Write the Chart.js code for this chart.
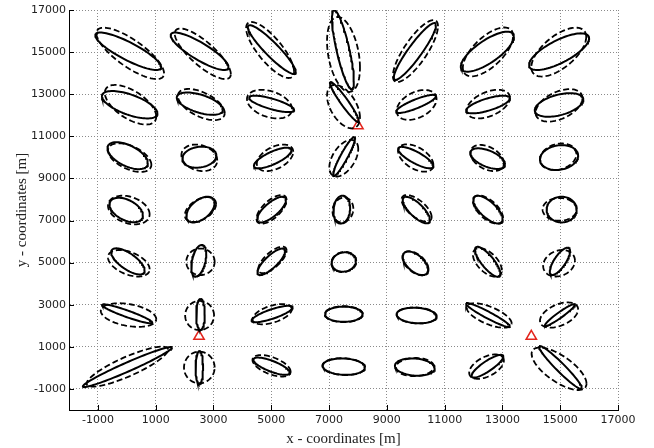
<!DOCTYPE html>
<html>
<head>
<meta charset="utf-8">
<script src="https://cdn.jsdelivr.net/npm/chart.js@4.4.0/dist/chart.umd.min.js"></script>
<style>
  body { margin: 0; background: #fff; }
</style>
</head>
<body>
<canvas id="ellipse-chart" width="654" height="448"></canvas>
<script>

// axis ticks (metres)
const xTicks = [-1000, 1000, 3000, 5000, 7000, 9000, 11000, 13000, 15000, 17000];
const yTicks = [-1000, 1000, 3000, 5000, 7000, 9000, 11000, 13000, 15000, 17000];

// error ellipses: [x, y, sigmaX, sigmaY, rho]
const solidEllipses = [
  [50, 15040, 1140, 890, -0.85], [2520, 15040, 1000, 890, -0.85], [5020, 15120, 830, 1160, -0.92],
  [7480, 15120, 380, 1880, -0.8], [9970, 15030, 730, 1350, 0.92], [12480, 15020, 920, 950, 0.75],
  [14960, 15020, 1040, 870, 0.73],
  [100, 12500, 960, 650, -0.63], [2530, 12550, 800, 530, -0.55], [5010, 12540, 780, 390, -0.75],
  [7530, 12630, 500, 950, -0.95], [10010, 12540, 690, 430, 0.85], [12500, 12510, 760, 420, 0.7],
  [14960, 12490, 840, 560, 0.45],
  [30, 10080, 700, 640, -0.55], [2510, 10010, 590, 500, 0.15], [5050, 9970, 650, 490, 0.75],
  [7520, 10040, 380, 930, 0.93], [10000, 9990, 610, 510, -0.8], [12490, 9940, 600, 490, -0.55],
  [14960, 9990, 660, 590, 0.15],
  [-20, 7500, 580, 580, -0.45], [2550, 7520, 490, 610, 0.5], [5010, 7520, 500, 610, 0.75],
  [7440, 7520, 290, 660, 0.1], [10020, 7500, 470, 630, -0.75], [12500, 7520, 510, 660, -0.7],
  [15050, 7520, 520, 610, 0],
  [40, 5060, 580, 620, -0.7], [2490, 5090, 260, 750, 0.4], [5000, 5040, 480, 630, 0.8],
  [7510, 5030, 420, 460, 0.1], [9990, 4970, 440, 560, -0.55], [12490, 5040, 440, 710, -0.8],
  [14990, 5060, 350, 650, 0.75],
  [10, 2570, 870, 450, -0.93], [2550, 2540, 150, 740, 0], [5030, 2560, 710, 390, 0.8],
  [7510, 2550, 650, 360, 0], [10030, 2490, 690, 370, -0.15], [12500, 2510, 760, 570, -0.95],
  [14990, 2510, 520, 520, 0.95],
  [20, 40, 1540, 950, 0.97], [2510, 10, 130, 790, 0], [5010, 80, 630, 410, -0.75],
  [7510, 60, 730, 390, -0.1], [9970, 40, 690, 410, -0.15], [12480, 80, 550, 540, 0.85],
  [15010, 20, 740, 1020, -0.96]
];

const dashedEllipses = [
  [120, 14940, 1170, 1220, -0.78], [2630, 14920, 970, 1200, -0.8], [4960, 15100, 830, 1330, -0.78],
  [7500, 14890, 570, 1780, -0.35], [9990, 15050, 780, 1470, 0.8], [12500, 15010, 870, 1160, 0.65],
  [14950, 15000, 950, 1160, 0.62],
  [130, 12500, 890, 940, -0.6], [2580, 12510, 810, 740, -0.55], [4940, 12530, 780, 680, -0.35],
  [7500, 12410, 570, 1030, -0.5], [10030, 12490, 690, 710, 0.4], [12510, 12530, 750, 680, 0.45],
  [14960, 12470, 810, 770, 0.45],
  [100, 9990, 750, 680, -0.5], [2510, 9980, 620, 630, -0.2], [5130, 9980, 630, 630, 0.45],
  [7510, 9960, 500, 870, 0.5], [10000, 9970, 610, 650, -0.5], [12470, 9970, 580, 620, -0.4],
  [14930, 10030, 630, 630, 0.2],
  [70, 7500, 720, 680, -0.3], [2550, 7520, 540, 590, 0.45], [5010, 7530, 520, 680, 0.65],
  [7480, 7500, 360, 590, 0.1], [10030, 7580, 520, 630, -0.65], [12500, 7520, 520, 670, -0.6],
  [14980, 7530, 590, 540, 0],
  [70, 4970, 720, 630, -0.45], [2550, 5040, 490, 630, 0], [5040, 5130, 490, 630, 0.7],
  [7510, 5030, 430, 480, 0.1], [9990, 4970, 450, 570, -0.5], [12480, 5010, 500, 680, -0.55],
  [14960, 4970, 550, 630, 0.2],
  [60, 2510, 960, 560, -0.35], [2520, 2490, 500, 690, 0], [5030, 2550, 680, 480, 0.5],
  [7510, 2550, 660, 380, 0], [10030, 2490, 690, 380, -0.1], [12540, 2490, 780, 580, -0.65],
  [14960, 2510, 660, 600, 0.45],
  [20, 60, 1410, 950, 0.85], [2510, 20, 530, 750, 0], [5010, 100, 660, 510, -0.55],
  [7510, 60, 740, 400, -0.1], [9970, 40, 660, 430, 0.05], [12450, 60, 600, 580, 0.5],
  [14960, -40, 950, 1010, -0.7]
];

// reference stations
const stations = [[8000, 11500], [2500, 1500], [14000, 1500]];

// outline of an ellipse from its sigmas and correlation
function ellipsePoints(e) {
  const [cx, cy, sx, sy, rho] = e;
  const k = Math.sqrt(1 - rho * rho);
  const pts = [];
  for (let i = 0; i <= 90; i++) {
    const t = i / 90 * 2 * Math.PI;
    pts.push({
      x: cx + sx * Math.cos(t),
      y: cy + sy * (rho * Math.cos(t) + k * Math.sin(t))
    });
  }
  return pts;
}

const datasets = [];
dashedEllipses.forEach(e => datasets.push({
  data: ellipsePoints(e),
  showLine: true,
  borderColor: '#000',
  borderWidth: 1.8,
  borderDash: [6, 3],
  pointRadius: 0,
  tension: 0
}));
solidEllipses.forEach(e => datasets.push({
  data: ellipsePoints(e),
  showLine: true,
  borderColor: '#000',
  borderWidth: 2,
  pointRadius: 0,
  tension: 0
}));
datasets.push({
  data: stations.map(s => ({x: s[0], y: s[1]})),
  showLine: false,
  pointStyle: 'triangle',
  pointRadius: 6,
  borderColor: '#e3241c',
  backgroundColor: 'rgba(255,255,255,0)',
  borderWidth: 1.5
});

// MATLAB-style ticks pointing into the plot
const innerTicks = {
  id: 'innerTicks',
  afterDraw(chart) {
    const {ctx, chartArea, scales: {x, y}} = chart;
    ctx.save();
    ctx.strokeStyle = '#000';
    ctx.lineWidth = 1;
    ctx.beginPath();
    xTicks.forEach(v => {
      const px = Math.round(x.getPixelForValue(v)) + 0.5;
      ctx.moveTo(px, chartArea.bottom);
      ctx.lineTo(px, chartArea.bottom - 5);
    });
    yTicks.forEach(v => {
      const py = Math.round(y.getPixelForValue(v)) + 0.5;
      ctx.moveTo(chartArea.left, py);
      ctx.lineTo(chartArea.left + 5, py);
    });
    ctx.stroke();
    ctx.restore();
  }
};

const tickFont = {family: 'DejaVu Sans', size: 11};
const titleFont = {family: 'Liberation Serif', size: 15};

const ctx = document.getElementById('ellipse-chart').getContext('2d');

const ellipseChart = new Chart(ctx, {
  type: 'scatter',
  data: { datasets: datasets },
  options: {
    responsive: false,
    devicePixelRatio: 1,
    animation: false,
    layout: { padding: { top: 10, right: 36, left: 0, bottom: 0 } },
    plugins: {
      legend: { display: false },
      tooltip: { enabled: false }
    },
    scales: {
      x: {
        type: 'linear',
        min: -2000,
        max: 17000,
        afterBuildTicks: s => { s.ticks = xTicks.map(v => ({value: v})); },
        afterFit: s => { s.height = 38; },
        grid: { color: '#8a8a8a', lineWidth: 1, drawTicks: false },
        border: { display: true, color: '#000', width: 1, dash: [1, 2] },
        ticks: { font: tickFont, color: '#222', padding: 4, autoSkip: false, maxRotation: 0,
                 callback: v => String(v) },
        title: { display: true, text: 'x - coordinates [m]', font: titleFont, color: '#222',
                 padding: { top: 0, bottom: 0 } }
      },
      y: {
        type: 'linear',
        min: -2000,
        max: 17000,
        afterBuildTicks: s => { s.ticks = yTicks.map(v => ({value: v})); },
        afterFit: s => { s.width = 69; },
        grid: { color: '#8a8a8a', lineWidth: 1, drawTicks: false },
        border: { display: true, color: '#000', width: 1, dash: [1, 2] },
        ticks: { font: tickFont, color: '#222', padding: 3, autoSkip: false,
                 callback: v => String(v) },
        title: { display: true, text: 'y - coordinates [m]', font: titleFont, color: '#222',
                 padding: { top: 13, bottom: 0 } }
      }
    }
  },
  plugins: [innerTicks]
});
</script>
</body>
</html>
